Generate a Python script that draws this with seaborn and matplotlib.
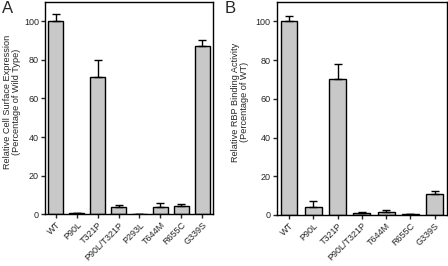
import numpy as np
import pandas as pd
import seaborn as sns
import matplotlib
matplotlib.use('Agg')
import matplotlib.pyplot as plt

# panel A data
a_labels = ['WT', 'P90L', 'T321P', 'P90L/T321P', 'P293L', 'T644M', 'R655C', 'G339S']
a_values = [100, 0.5, 71, 3.5, 0.2, 3.5, 4, 87]
a_err = [4, 0.3, 9, 1, 0.1, 2.5, 1, 3.5]

# panel B data
b_labels = ['WT', 'P90L', 'T321P', 'P90L/T321P', 'T644M', 'R655C', 'G339S']
b_values = [100, 4, 70.5, 1, 1.5, 0.3, 11]
b_err = [3, 3, 7.5, 0.7, 0.8, 0.2, 1.5]

sns.set_style('ticks')
plt.rcParams['font.family'] = ['Liberation Sans', 'DejaVu Sans']
plt.rcParams['font.size'] = 6.5

fig = plt.figure(figsize=(4.48, 2.66), dpi=100)
ax1 = fig.add_axes([0.101, 0.195, 0.374, 0.797])
ax2 = fig.add_axes([0.618, 0.192, 0.379, 0.8])


def panel(ax, labels, values, err, ylabel, label_x):
    df = pd.DataFrame({'mutant': labels, 'value': values})
    sns.barplot(data=df, x='mutant', y='value', ax=ax, color='#c8c8c8',
                saturation=1, edgecolor='black', linewidth=1, width=0.7,
                errorbar=None)
    ax.errorbar(range(len(labels)), values, yerr=[np.zeros(len(err)), err],
                fmt='none', ecolor='black', elinewidth=1, capsize=3, capthick=1)
    ax.set_ylim(0, 110)
    ax.set_xlim(-0.5, len(labels) - 0.5)
    ax.set_yticks([0, 20, 40, 60, 80, 100])
    ax.set_xlabel('')
    ax.set_ylabel(ylabel, fontsize=6.6, linespacing=1.0)
    ax.yaxis.set_label_coords(label_x, 0.53)
    ax.set_xticks(range(len(labels)))
    ax.set_xticklabels(labels, rotation=45, ha='right', rotation_mode='anchor')
    ax.tick_params(length=3, width=1, labelsize=6.5, pad=1.5)
    for s in ax.spines.values():
        s.set_linewidth(1)
        s.set_color('black')


panel(ax1, a_labels, a_values, a_err,
      'Relative Cell Surface Expression\n(Percentage of Wild Type)', -0.145)
panel(ax2, b_labels, b_values, b_err,
      'Relative RBP Binding Activity\n(Percentage of WT)', -0.165)

fig.text(0.004, 0.995, 'A', fontsize=12, va='top', ha='left')
fig.text(0.502, 0.995, 'B', fontsize=12, va='top', ha='left')

fig.savefig('out.png', dpi=100)
